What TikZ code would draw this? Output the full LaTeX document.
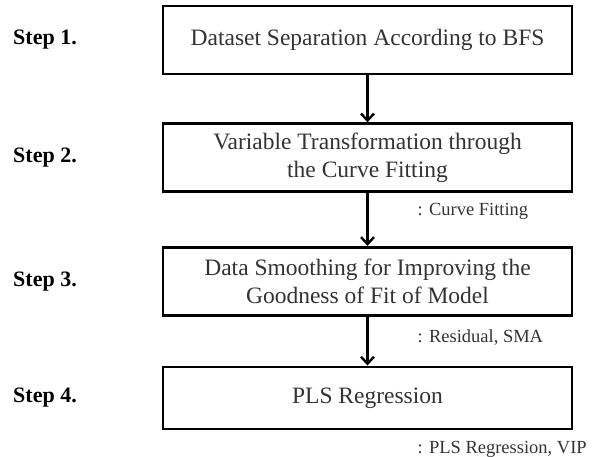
\documentclass[tikz,border=0pt]{standalone}
\usepackage{fontspec}
\setmainfont{Liberation Serif}
\usetikzlibrary{positioning, arrows.meta}

\begin{document}
\begin{tikzpicture}[->,>={Straight Barb[length=7pt,width=13pt]},
    box/.style={draw,line width=2.6pt,minimum width=409pt,minimum height=68pt,align=center,inner sep=0pt,text=black!80,font=\fontsize{23.5}{28}\selectfont},
    steplabel/.style={anchor=west,inner sep=0pt,font=\fontsize{22}{26}\selectfont\bfseries},
    note/.style={anchor=west,inner sep=0pt,text=black!80,font=\fontsize{18.5}{22}\selectfont},
    flow/.style={line width=2.4pt}]
    \useasboundingbox (0,0) rectangle (597pt,-456pt);
    % the four steps
    \node[box] (b1) at (367.5pt,-40pt) {Dataset Separation According to BFS};
    \node[box] (b2) [below=47pt of b1] {Variable Transformation through\\the Curve Fitting};
    \node[box] (b3) [below=53pt of b2] {Data Smoothing for Improving the\\Goodness of Fit of Model};
    \node[box,minimum height=62pt] (b4) [below=49pt of b3] {PLS Regression};
    % step numbers on the left
    \coordinate (lm) at (13pt,-2pt);
    \node[steplabel] (s1) at (lm |- b1) {Step 1.};
    \node[steplabel] (s2) at (lm |- b2) {Step 2.};
    \node[steplabel] (s3) at (lm |- b3) {Step 3.};
    \node[steplabel] (s4) at (lm |- b4) {Step 4.};
    % methods used
    \node[note] (n2) at ([xshift=50pt,yshift=-18pt]b2.south) {: Curve Fitting};
    \node[note] (n3) at ([xshift=50pt,yshift=-21pt]b3.south) {: Residual, SMA};
    \node[note] (n4) at ([xshift=50pt,yshift=-19pt]b4.south) {: PLS Regression, VIP};

    \path (b1) edge[flow] (b2)
          (b2) edge[flow] (b3)
          (b3) edge[flow] (b4);
\end{tikzpicture}
\end{document}
